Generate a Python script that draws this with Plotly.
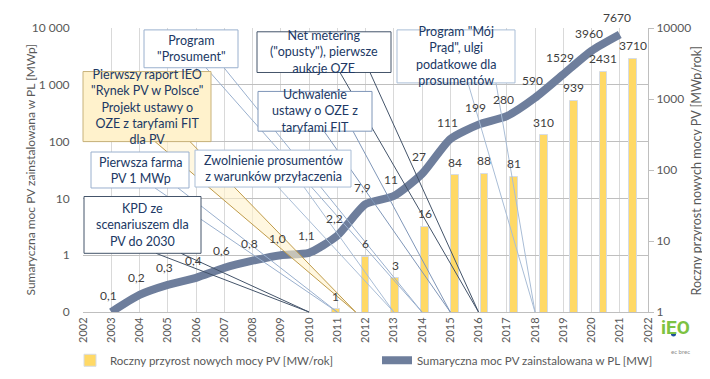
import numpy as np
import plotly.graph_objects as go

# ---------------- data ----------------
axis_years = list(range(2002, 2023))
years = list(range(2003, 2022))
cumulative = [0.1, 0.2, 0.3, 0.4, 0.6, 0.8, 1.0, 1.1, 2.2, 7.9, 11, 27, 111, 199, 280, 590, 1529, 3960, 7670]
cumulative_labels = ["0,1", "0,2", "0,3", "0,4", "0,6", "0,8", "1,0", "1,1", "2,2", "7,9", "11", "27",
                     "111", "199", "280", "590", "1529", "3960", "7670"]
annual = [0.1, 0.1, 0.1, 0.1, 0.2, 0.2, 0.2, 0.1, 1.1, 6, 3, 16, 84, 88, 81, 310, 939, 2431, 3710]
annual_labels = ["", "", "", "", "", "", "", "", "1", "6", "3", "16", "84", "88", "81", "310", "939", "2431", "3710"]

left_tickvals = [0.1, 1, 10, 100, 1000, 10000]
left_ticktext = ["0", "1", "10", "100", "1 000", "10 000"]
right_tickvals = [1, 10, 100, 1000, 10000]
right_ticktext = ["1", "10", "100", "1000", "10000"]

bar_name = "Roczny przyrost nowych mocy PV [MW/rok]"
line_name = "Sumaryczna moc PV zainstalowana w PL [MW]"
left_title = "Sumaryczna moc PV zainstalowana w PL [MWp]"
right_title = "Roczny przyrost nowych mocy PV [MWp/rok]"

callout_texts = [
    "Program<br>\"Prosument\"",
    "Pierwszy raport IEO<br>\"Rynek PV w Polsce\"<br>Projekt ustawy o<br>OZE z taryfami FIT<br>dla PV",
    "Pierwsza farma<br>PV 1 MWp",
    "KPD ze<br>scenariuszem dla<br>PV do 2030",
    "Zwolnienie prosumentów<br>z warunków przyłaczenia",
    "Net metering<br>(\"opusty\"), pierwsze<br>aukcje OZE",
    "Uchwalenie<br>ustawy o OZE z<br>taryfami FIT",
    "Program \"Mój<br>Prąd\", ulgi<br>podatkowe dla<br>prosumentów",
]
callout_targets = [2014, 2011.65, 2011, 2010, 2013, 2016, 2015, 2018]

# ---------------- layout geometry ----------------
W, H = 710, 379
PL, PR, PT, PB = 75, 640, 15, 315
def px(x):
    return (x - PL) / (PR - PL)
def py(y):
    return (PB - y) / (PB - PT)

callout_boxes = [
    (136, 17, 230, 57),
    (75, 61, 203, 135),
    (83, 146, 181, 184),
    (76, 193, 193, 253),
    (187, 144, 343, 183),
    (249, 19, 383, 62),
    (250, 82, 364, 124),
    (389, 17, 507, 73),
]
callout_bases = [
    (198, 216), (147, 182), (147, 170), (148, 173),
    (270, 296), (332, 362), (316, 345), (460, 488),
]
callout_borders = ["#9AB0CE", "#C8B27A", "#9AB0CE", "#44546A", "#A9BDD6", "#44546A", "#7F96B8", "#A9BDD6"]

TEXT = "#404040"
AX = "#595959"
FONT = "Lato"

fig = go.Figure()

fig.add_trace(go.Bar(
    x=[str(y) for y in years], y=annual, name=bar_name,
    xaxis="x2", yaxis="y2", width=0.26,
    marker=dict(color="#FFD966", line=dict(color="#D6DCE5", width=1)),
))
fig.add_trace(go.Scatter(
    x=years, y=cumulative, name=line_name, mode="lines",
    line=dict(color="#6E7E9C", width=8, shape="spline", smoothing=0.6),
))

annotations = []
for yr, v, t in zip(years, cumulative, cumulative_labels):
    annotations.append(dict(x=yr, y=np.log10(v), xref="x", yref="y", text=t, showarrow=False,
                            yshift=17, xshift=-3, font=dict(size=12, color=TEXT, family=FONT)))
for i, (v, t) in enumerate(zip(annual, annual_labels)):
    if t:
        annotations.append(dict(x=i, y=np.log10(v), xref="x2", yref="y2", text=t, showarrow=False,
                                yshift=13, font=dict(size=12, color=TEXT, family=FONT)))

wedges, boxes = [], []
for i, (txt, box, base, tgt, bc) in enumerate(zip(callout_texts, callout_boxes, callout_bases,
                                                    callout_targets, callout_borders)):
    x0, y0, x1, y1 = box
    filled = (i == 1)
    tipx = (tgt - 2002) / 20
    path = f"M {px(base[0])},{py(y1)} L {tipx},0 L {px(base[1])},{py(y1)}"
    wedges.append(dict(type="path", path=path, xref="paper", yref="paper", layer="above",
                       line=dict(color="#BF9B4A" if filled else bc, width=1),
                       fillcolor="rgba(255,242,204,0.6)" if filled else "rgba(0,0,0,0)"))
    boxes.append(dict(type="rect", x0=px(x0), x1=px(x1), y0=py(y1), y1=py(y0),
                      xref="paper", yref="paper", layer="above",
                      line=dict(color=bc, width=1),
                      fillcolor="#FFF2CC" if filled else "white"))
    annotations.append(dict(x=px((x0 + x1) / 2), y=py((y0 + y1) / 2), xref="paper", yref="paper",
                            text=txt, showarrow=False, xanchor="center", yanchor="middle",
                            font=dict(size=12.5, color="#203864", family=FONT)))

annotations.append(dict(x=px(12), y=py(165), xref="paper", yref="paper", text=left_title, textangle=-90,
                        showarrow=False, font=dict(size=12, color=AX, family=FONT)))
annotations.append(dict(x=px(698), y=py(166), xref="paper", yref="paper", text=right_title, textangle=-90,
                        showarrow=False, font=dict(size=12.5, color=AX, family=FONT)))
annotations.append(dict(x=px(684), y=py(346), xref="paper", yref="paper", text="<b>iEO</b>",
                        showarrow=False, font=dict(size=19, color="#7DC242", family="Roboto")))
annotations.append(dict(x=px(684), y=py(363), xref="paper", yref="paper", text="ec brec",
                        showarrow=False, font=dict(size=6, color="#8A8A8A", family=FONT)))

logo_dot = dict(type="circle", xref="paper", yref="paper", x0=px(663), x1=px(668), y0=py(341), y1=py(336),
                fillcolor="#1F4E9E", line=dict(width=0), layer="above")

fig.update_layout(
    width=W, height=H,
    margin=dict(l=PL, r=W - PR, t=PT, b=H - PB),
    paper_bgcolor="white", plot_bgcolor="white",
    font=dict(family=FONT, color=AX, size=11),
    showlegend=True,
    legend=dict(orientation="h", x=px(62), y=py(366), xanchor="left", yanchor="middle",
                font=dict(size=11.5, color=AX, family=FONT), itemwidth=30,
                entrywidth=262, entrywidthmode="pixels",
                bgcolor="rgba(0,0,0,0)"),
    bargap=0,
    xaxis=dict(range=[2002, 2022], tickvals=axis_years, ticktext=[str(y) for y in axis_years],
               tickangle=-90, showgrid=True, gridcolor="#D9D9D9", gridwidth=1,
               showline=True, linecolor="#BFBFBF", zeroline=False,
               tickfont=dict(size=11, color=AX, family=FONT), ticks="", fixedrange=True),
    xaxis2=dict(type="category", overlaying="x", anchor="y", range=[-0.5, len(years) - 0.5],
                visible=False),
    yaxis=dict(type="log", range=[-1, 4], tickvals=left_tickvals, ticktext=left_ticktext,
               showgrid=True, gridcolor="#BFBFBF", gridwidth=1, zeroline=False,
               ticks="outside", ticklen=10, tickcolor="rgba(0,0,0,0)",
               tickfont=dict(size=12, color=AX, family=FONT)),
    yaxis2=dict(type="log", range=[0, 4], overlaying="y", side="right", anchor="x",
                tickvals=right_tickvals, ticktext=right_ticktext, showgrid=False,
                showline=True, linecolor="#BFBFBF", ticks="outside", ticklen=5, tickcolor="#BFBFBF",
                tickfont=dict(size=12, color=AX, family=FONT), zeroline=False),
    shapes=wedges + boxes + [logo_dot],
    annotations=annotations,
)

fig.write_html("out.html")
